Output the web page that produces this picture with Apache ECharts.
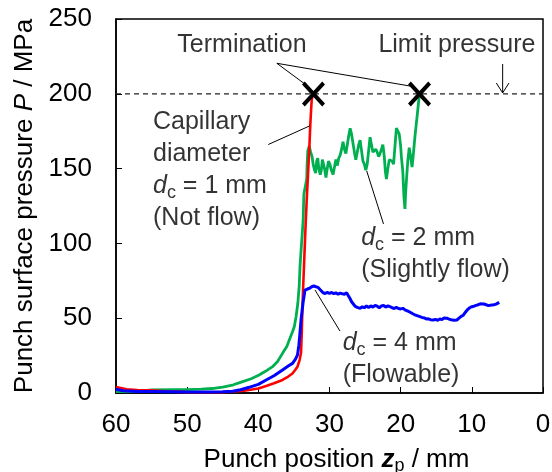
<!DOCTYPE html>
<html>
<head>
<meta charset="utf-8">
<script src="https://cdn.jsdelivr.net/npm/echarts@6/dist/echarts.min.js"></script>
<style>
html,body{margin:0;padding:0;background:#fff;}
#c{width:552px;height:472px;}
</style>
</head>
<body>
<div id="c"></div>
<script>
// ---- data (x: punch position mm, y: pressure MPa) ----
var xTicks = [0, 10, 20, 30, 40, 50, 60];
var yTicks = [0, 50, 100, 150, 200, 250];

var red1mm = [[60,4],[59.5,3.5],[58.5,2.5],[57,2],[55,1.8],[53,1.2],[50,0.6],[47,0.5],[45,0.6],[43.5,1],[42,1.6],[41.3,2],[40,3],[38.9,4.7],[37.8,6.5],[36.6,8.7],[35.8,11],[35.2,13],[34.8,15.5],[34.5,17.6],[34.2,22],[34.0,27],[33.9,40],[33.8,57],[33.7,71],[33.5,95],[33.35,113],[33.2,129],[33.0,148],[32.85,162],[32.7,179],[32.6,188],[32.5,196],[32.3,200]];

var green2mm = [[60,1],[58,1],[56,1.5],[55,2],[52,2.2],[50,2.3],[48,2.6],[46.5,3],[45,4],[43.5,5.5],[42.2,7.6],[41,9.5],[39.9,12],[39,14.5],[38,17.6],[37.3,21],[36.6,26.5],[36,31],[35.65,35.4],[35.2,41],[34.95,44.3],[34.7,51],[34.45,60],[34.35,66],[34.25,72],[34.15,84],[34.0,95],[33.85,105],[33.75,112],[33.7,116],[33.65,125],[33.6,133],[33.4,138],[33.2,143],[33.15,152],[33.05,162],[32.85,165],[32.65,161],[32.45,158],[32.3,153],[32.1,149],[31.95,147],[31.8,155],[31.65,157],[31.5,150],[31.3,146],[31.15,149],[31.0,156],[30.85,157],[30.7,150],[30.5,144],[30.35,149],[30.15,155],[29.95,153],[29.75,149],[29.5,146],[29.3,151],[29.1,156],[28.9,152],[28.7,157],[28.5,159],[28.3,163],[28.1,168],[27.9,163],[27.7,160],[27.5,166],[27.3,172],[27.1,177],[26.9,173],[26.7,167],[26.5,161],[26.3,156],[26.1,161],[25.9,166],[25.7,169],[25.5,162],[25.3,155],[25.1,153],[24.9,149],[24.7,153],[24.5,162],[24.3,171],[24.1,166],[23.9,161],[23.7,160],[23.5,163],[23.3,161],[23.1,158],[22.9,160],[22.7,163],[22.5,166],[22.3,158],[22.15,148],[22.0,143],[21.8,150],[21.6,156],[21.4,157],[21.2,155],[21.0,153],[20.8,165],[20.6,177],[20.4,176],[20.2,173],[20.0,165],[19.9,158],[19.7,148],[19.55,132],[19.4,123],[19.3,134],[19.15,145],[19.0,155],[18.8,164],[18.6,158],[18.4,151],[18.25,158],[18.0,171],[17.8,180],[17.6,189],[17.45,196],[17.35,200]];

var blue4mm = [[60,2.5],[59.5,2],[59,1.5],[57,1],[55,1],[50,0.6],[47,0.6],[45,0.8],[43.6,1.2],[42.5,2.2],[41.3,3.8],[40,5.8],[38.9,8.7],[37.8,11.5],[36.6,15.4],[35.8,18],[35.2,19.8],[34.8,22.5],[34.5,25.4],[34.3,32],[34.15,40],[34.0,48.8],[33.85,55],[33.7,61],[33.55,65.5],[33.45,68.8],[33.1,69.5],[32.8,70],[32.5,71],[32.2,71.5],[31.9,71],[31.6,70.6],[31.3,69],[30.9,67],[30.6,66.5],[30.3,67.2],[30.0,66.5],[29.7,67.2],[29.4,66.4],[29.1,67],[28.8,66],[28.5,66.8],[28.2,66.3],[27.9,66],[27.6,67],[27.4,66],[27.1,63],[26.9,61],[26.65,60],[26.4,58],[26.1,57.2],[25.7,56.6],[25.4,57.6],[25.1,57],[24.8,58.2],[24.5,57.2],[24.2,58.2],[23.9,57.4],[23.6,58.6],[23.3,58],[23.0,57],[22.7,58.2],[22.4,58.6],[22.1,57.4],[21.8,58.2],[21.5,57.7],[21.2,57],[20.9,56.5],[20.6,57.2],[20.3,56.5],[20.0,56.2],[19.7,56.6],[19.4,55.6],[19.2,56],[18.9,54.5],[18.6,53.8],[18.3,53],[17.9,52],[17.6,51.5],[17.3,51],[17.0,50.5],[16.7,50.2],[16.4,49.5],[16.1,49.6],[15.8,49],[15.4,48.8],[15.1,49.2],[14.8,48.6],[14.5,49.5],[14.2,49],[13.9,50.2],[13.5,50],[13.2,49.4],[12.9,49],[12.5,48.6],[12.1,48.8],[11.8,50],[11.5,51.2],[11.2,52],[10.9,54],[10.6,55.8],[10.3,57],[10.0,57.7],[9.7,58],[9.4,58.6],[9.1,59],[8.8,59.6],[8.6,60],[8.3,59.5],[8.0,59],[7.7,58.4],[7.45,58],[7.2,58.8],[6.9,59],[6.6,59.4],[6.35,60.2],[6.15,60.6]];

var terminationPts = [[32.25, 199.8], [17.35, 199.8]];
var limitPressure = 200;

// annotations: [x, y] anchor in data units, text
var annTermination = {pos: [42.3, 232.6], text: 'Termination'};
var annLimit = {pos: [12.1, 232.6], text: 'Limit pressure'};
var ann1mm = {pos: [54.8, 149.0], text: 'Capillary\ndiameter\n{i|d}{s|c} = 1 mm\n(Not flow)'};
var ann2mm = {pos: [25.55, 93.0], text: '{i|d}{s|c} = 2 mm\n(Slightly flow)'};
var ann4mm = {pos: [28.15, 22.9], text: '{i|d}{s|c} = 4 mm\n(Flowable)'};

// leader lines
var leadTermination = [[33.45, 206.5], [37.4, 220.4], [18.45, 205]];
var lead1mm = [[38.6, 166.1], [32.8, 178.5]];
var lead2mm = [[24.77, 148.4], [22.41, 113]];
var lead4mm = [[32.04, 68.9], [28.53, 41.4]];
var limitArrowShaft = [[5.67, 219.9], [5.67, 200.6]];
var limitArrowHead = [[6.56, 207.2], [5.67, 200.6], [4.78, 207.2]];

// ---- chart ----
var FONT = '"Liberation Sans", Arial, sans-serif';
var chart = echarts.init(document.getElementById('c'), null, {renderer: 'canvas'});

var richText = {
  i: {fontStyle: 'italic', fontSize: 25, fontFamily: FONT, color: '#000', lineHeight: 32},
  s: {fontSize: 18, fontFamily: FONT, color: '#000', lineHeight: 22, verticalAlign: 'bottom'}
};

function annItem(a, align) {
  return {
    value: a.pos,
    label: {
      show: true,
      position: 'inside',
      formatter: a.text,
      align: align,
      verticalAlign: 'middle',
      fontSize: 25,
      lineHeight: 32,
      fontFamily: FONT,
      color: '#000',
      textBorderWidth: 0,
      rich: richText
    }
  };
}

function leader(data, w) {
  return {
    type: 'line', data: data, symbol: 'none', showSymbol: false,
    lineStyle: {color: '#000', width: w || 1}, silent: true, z: 5, animation: false
  };
}

var option = {
  animation: false,
  backgroundColor: '#fff',
  grid: {left: 116, right: 9, top: 19, bottom: 79, show: true, borderColor: '#000', borderWidth: 1.5, containLabel: false, outerBoundsMode: 'none'},
  xAxis: {
    type: 'value', min: 0, max: 60, interval: 10, inverse: true,
    axisLine: {show: true, onZero: false, lineStyle: {color: '#000', width: 1.5}},
    axisTick: {show: true, inside: true, length: 6, lineStyle: {color: '#000', width: 1}},
    axisLabel: {fontSize: 26, color: '#000', fontFamily: FONT, margin: 19,
      customValues: xTicks},
    splitLine: {show: false},
    name: 'Punch position {z|z}{p|p} / mm',
    nameLocation: 'middle', nameGap: 52,
    nameTextStyle: {fontSize: 26, color: '#000', fontFamily: FONT, lineHeight: 30,
      padding: [0, 0, 0, 14],
      rich: {
        z: {fontSize: 26, fontStyle: 'italic', fontWeight: 'bold', fontFamily: FONT, color: '#000', lineHeight: 30},
        p: {fontSize: 18, fontFamily: FONT, color: '#000', lineHeight: 20, verticalAlign: 'bottom'}
      }}
  },
  yAxis: {
    type: 'value', min: 0, max: 250, interval: 50,
    axisLine: {show: true, onZero: false, lineStyle: {color: '#000', width: 1.5}},
    axisTick: {show: true, inside: true, length: 6, lineStyle: {color: '#000', width: 1}},
    axisLabel: {fontSize: 26, color: '#000', fontFamily: FONT, margin: 24},
    splitLine: {show: false},
    name: 'Punch surface pressure {i|P} / MPa',
    nameLocation: 'middle', nameGap: 78,
    nameTextStyle: {fontSize: 26, color: '#000', fontFamily: FONT,
      rich: {i: {fontSize: 26, fontStyle: 'italic', fontFamily: FONT, color: '#000'}}}
  },
  series: [
    {type: 'line', name: 'limit', data: [[60, limitPressure], [0, limitPressure]], symbol: 'none',
      lineStyle: {color: '#222', width: 1.2, type: [5, 4]}, silent: true, z: 1},
    {type: 'line', name: 'dc=2mm', data: green2mm, symbol: 'none', showSymbol: false,
      lineStyle: {color: '#00B050', width: 2.8}, z: 2},
    {type: 'line', name: 'dc=1mm', data: red1mm, symbol: 'none', showSymbol: false,
      lineStyle: {color: '#FF0000', width: 2.6}, z: 3},
    {type: 'line', name: 'dc=4mm', data: blue4mm, symbol: 'none', showSymbol: false,
      lineStyle: {color: '#0000FF', width: 3}, z: 4},
    leader(leadTermination), leader(lead1mm), leader(lead2mm), leader(lead4mm),
    leader(limitArrowShaft), leader(limitArrowHead),
    {type: 'scatter', data: terminationPts, z: 6, silent: true,
      symbol: 'path://M0,12 L12,0 L50,38 L88,0 L100,12 L62,50 L100,88 L88,100 L50,62 L12,100 L0,88 L38,50 Z',
      symbolSize: [23, 25], itemStyle: {color: '#000', opacity: 1}},
    {type: 'scatter', z: 7, silent: true, symbolSize: 0,
      itemStyle: {color: 'transparent'},
      data: [annItem(annTermination, 'center'), annItem(annLimit, 'center'),
             annItem(ann1mm, 'left'), annItem(ann2mm, 'left'), annItem(ann4mm, 'left')]}
  ]
};
chart.setOption(option);
</script>
</body>
</html>
